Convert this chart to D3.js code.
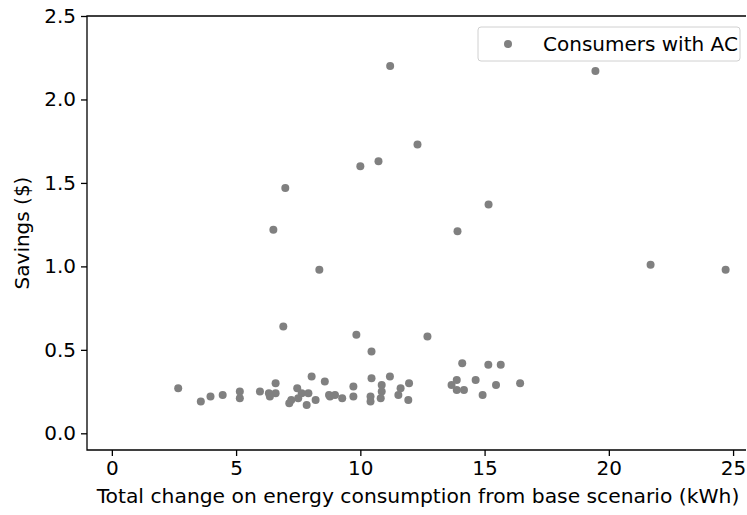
<!DOCTYPE html>
<head>
  <meta charset="utf-8">
  <script src="https://d3js.org/d3.v7.min.js"></script>
  <style>
    body { margin:0; background:#fff; }
    text { font-family: "DejaVu Sans", sans-serif; fill:#000; }
  </style>
</head>
<body>
<script>
  // consumption change (kWh) and savings ($) for each consumer
  var energy = [11.2, 19.46, 12.3, 10.73, 10.0, 6.98, 15.16, 6.5, 13.91, 21.68, 8.35, 24.7,
                6.9, 9.84, 12.7, 10.45,
                2.67, 3.58, 3.97, 4.46, 5.15, 5.15, 5.96, 6.32, 6.36, 6.59, 6.59, 7.14, 7.22,
                7.46, 7.50, 7.64, 7.84, 7.91, 8.04, 8.20, 8.57, 8.74, 8.78, 8.98, 9.27, 9.72,
                9.72, 10.45, 10.41, 10.41, 10.86, 10.86, 10.82, 11.19, 11.53, 11.62, 11.96, 11.93,
                13.67, 13.88, 13.88, 14.10, 14.17, 14.64, 14.92, 15.15, 15.46, 15.65, 16.43];
  var savings = [2.20, 2.17, 1.73, 1.63, 1.60, 1.47, 1.37, 1.22, 1.21, 1.01, 0.98, 0.98,
                 0.64, 0.59, 0.58, 0.49,
                 0.27, 0.19, 0.22, 0.23, 0.25, 0.21, 0.25, 0.24, 0.22, 0.30, 0.24, 0.18, 0.20,
                 0.27, 0.21, 0.24, 0.17, 0.24, 0.34, 0.20, 0.31, 0.23, 0.22, 0.23, 0.21, 0.28,
                 0.22, 0.33, 0.22, 0.19, 0.29, 0.25, 0.21, 0.34, 0.23, 0.27, 0.30, 0.20,
                 0.29, 0.32, 0.26, 0.42, 0.26, 0.32, 0.23, 0.41, 0.29, 0.41, 0.30];
  var xTicks = [0, 5, 10, 15, 20, 25];
  var yTicks = [0.0, 0.5, 1.0, 1.5, 2.0, 2.5];
  var seriesName = "Consumers with AC";

  var width = 747, height = 515;
  var mLeft = 87, mTop = 16, mRight = 746, mBottom = 450;

  var svg = d3.select("body").append("svg")
      .attr("width", width)
      .attr("height", height);

  var x = d3.scaleLinear().domain([-1, 25.52]).range([mLeft, mRight]);
  var y = d3.scaleLinear().domain([-0.1, 2.5]).range([mBottom, mTop]);

  // points
  svg.append("g").selectAll("circle")
    .data(energy)
    .enter().append("circle")
      .attr("cx", function(d) { return x(d); })
      .attr("cy", function(d, i) { return y(savings[i]); })
      .attr("r", 4)
      .style("fill", "#808080");

  // axes
  var xAxis = svg.append("g")
      .attr("transform", "translate(0," + mBottom + ")")
      .call(d3.axisBottom(x).tickValues(xTicks).tickFormat(d3.format("d")).tickSizeOuter(0).tickSize(6).tickPadding(5));
  var yAxis = svg.append("g")
      .attr("transform", "translate(" + mLeft + ",0)")
      .call(d3.axisLeft(y).tickValues(yTicks).tickFormat(d3.format(".1f")).tickSizeOuter(0).tickSize(6).tickPadding(5));

  [xAxis, yAxis].forEach(function(a) {
    a.select(".domain").remove();
    a.selectAll(".tick line").attr("stroke", "#000").attr("stroke-width", 1.3);
    a.selectAll(".tick text").style("font-size", "20px").style("font-family", "DejaVu Sans");
  });

  // spines
  svg.append("path")
    .attr("d", "M" + mRight + "," + mTop + "H" + mLeft + "V" + mBottom + "H" + mRight)
    .attr("fill", "none")
    .attr("stroke", "#000")
    .attr("stroke-width", 1.3);

  // axis titles
  svg.append("text")
    .attr("x", 418)
    .attr("y", 503)
    .attr("text-anchor", "middle")
    .style("font-size", "20.3px")
    .text("Total change on energy consumption from base scenario (kWh)");

  svg.append("text")
    .attr("transform", "translate(29," + (mTop + mBottom) / 2 + ") rotate(-90)")
    .attr("text-anchor", "middle")
    .style("font-size", "20px")
    .text("Savings ($)");

  // legend
  var lg = svg.append("g");
  lg.append("rect")
    .attr("x", 478).attr("y", 27)
    .attr("width", 262).attr("height", 34)
    .attr("rx", 3)
    .attr("fill", "#fff").attr("fill-opacity", 0.8)
    .attr("stroke", "#d0d0d0").attr("stroke-width", 1);
  lg.append("circle")
    .attr("cx", 508).attr("cy", 44).attr("r", 4)
    .style("fill", "#808080");
  lg.append("text")
    .attr("x", 543).attr("y", 44)
    .attr("dy", "0.35em")
    .style("font-size", "20px")
    .text(seriesName);
</script>
</body>
